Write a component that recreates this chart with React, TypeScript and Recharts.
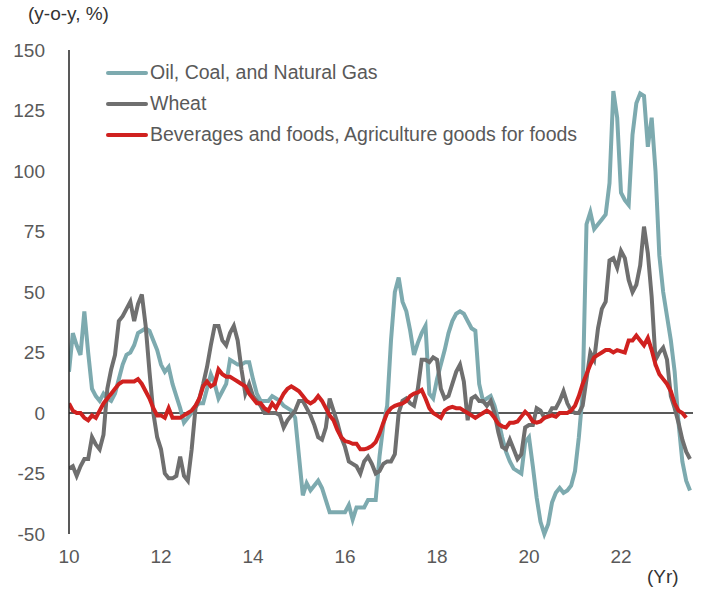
import React from 'react';
import { LineChart, Line, XAxis, YAxis, ReferenceLine } from 'recharts';

// monthly y-o-y %, Jan 2010 .. Jul 2023
const oilCoalGas = [
  17, 33, 28, 24, 42, 25, 10, 7, 5, 8, 6, 5,
  8, 14, 20, 24, 25, 28, 33, 34, 35, 34, 30, 26,
  20, 17, 19, 12, 7, 2, -4, -2, 0, 3, 4, 4,
  10, 16, 12, 6, 9, 12, 22, 21, 20, 20, 21, 21,
  14, 8, 5, 5, 5, 7, 6, 5, 3, 2, 1, -2,
  -18, -34, -29, -32, -30, -28, -31, -36, -41, -41, -41, -41,
  -41, -38, -44, -39, -39, -39, -36, -36, -36, -18, -5, 3,
  30, 50, 56, 46, 42, 34, 24, 29, 33, 36, 8, 6,
  14, 20, 26, 33, 38, 41, 42, 41, 38, 35, 34, 12,
  5, 6, 7, 3, -3, -10, -16, -20, -23, -24, -25, -12,
  -10, -22, -35, -45, -50, -46, -37, -33, -31, -33, -32, -30,
  -24, -10, 8, 78, 83, 76, 78, 80, 82, 95, 133, 122,
  91, 88, 86, 115, 128, 132, 131, 110, 122, 100, 65, 50,
  40, 30, 17, -4, -20, -28, -32,
];

const wheat = [
  -23, -22, -26, -22, -19, -19, -10, -13, -15, -9, 10, 18,
  24, 38, 40, 43, 46, 38, 45, 49, 36, 17, 0, -10,
  -15, -25, -27, -27, -26, -18, -26, -28, -15, 2, 6, 12,
  19, 28, 36, 36, 30, 28, 33, 36, 30, 18, 8, 12,
  7, 5, 3, 0, 0, 0, 0, -1, -6, -3, -1, 1,
  5, 5, 2, -1, -5, -10, -11, -6, 6, 1, -4, -10,
  -14, -20, -21, -22, -25, -20, -18, -21, -25, -24, -21, -20,
  -20, -17, 0, 5, 6, 4, 3, 10, 22, 22, 21, 23,
  22, 10, 6, 7, 12, 17, 20, 13, -3, 6, 7, 5,
  5, 3, 5, 0, -8, -14, -15, -11, -15, -19, -17, -6,
  -5, -5, 2, 1, -2, -1, 2, 2, 5, 9, 4, 1,
  0, 0, 3, 14, 25, 22, 35, 43, 46, 63, 64, 60,
  67, 64, 55, 50, 53, 61, 77, 66, 48, 22, 25, 27,
  22, 7, 2, -4, -11, -16, -19,
];

const beverages = [
  4, 1, 0, 0, -2, -3, -1, -2, 1, 4, 6, 8,
  10, 12, 13, 13, 13, 13, 14, 12, 9, 6, 2, -1,
  -1, -2, 2, -2, -2, -2, -1, 0, 1, 3, 6, 11,
  13, 11, 12, 18, 16, 15, 15, 14, 13, 12, 11, 8,
  6, 4, 4, 2, 1, 4, 2, 5, 8, 10, 11, 10,
  9, 7, 5, 4, 5, 7, 5, 2, -1, -3, -7, -10,
  -11.6, -12, -12.7, -12.7, -15, -15, -14.5, -13.6, -12, -8.5, -4, 0,
  2, 3, 3.5, 4, 5, 7, 8, 8.5, 9.5, 6, 2, 0,
  -1, -2, 1, 2, 2.5, 2, 2, 1, 0, -1, -2, -1,
  0, 1, 0, -2, -4.5, -5.5, -6, -4, -4, -3.5, -1.5, 0.5,
  -1, -3.5, -4, -3.5, -2, -1.5, -1, -1.5, 0, 0, 0, 1,
  3, 7, 12, 16, 20, 23, 24, 25, 26, 26, 25, 26,
  25.5, 25, 30, 30, 32, 30, 28, 31, 26, 20, 16, 14,
  12, 9, 4, 1, 0, -2, null,
];

const yearTicks = [2010, 2012, 2014, 2016, 2018, 2020, 2022];
const valueTicks = [-50, -25, 0, 25, 50, 75, 100, 125, 150];

const series = [
  { key: 'oil', name: 'Oil, Coal, and Natural Gas', color: '#7DAAAF' },
  { key: 'wheat', name: 'Wheat', color: '#6F6F6F' },
  { key: 'bev', name: 'Beverages and foods, Agriculture goods for foods', color: '#D0211F' },
];

const data = oilCoalGas.map((v, i) => ({
  t: 2010 + i / 12,
  oil: v,
  wheat: wheat[i],
  bev: beverages[i],
}));

const FONT = '"Liberation Sans", Arial, sans-serif';

export default function App() {
  return (
    <div style={{ position: 'absolute', left: 0, top: 0, width: 701, height: 590, background: '#fff', fontFamily: FONT }}>
      <div style={{ position: 'absolute', left: 28, top: 3, fontSize: 19, color: '#333' }}>(y-o-y, %)</div>
      <div style={{ position: 'absolute', left: 647, top: 566, fontSize: 19, color: '#333' }}>(Yr)</div>
      <LineChart width={701} height={590} data={data} margin={{ top: 50, right: 8, bottom: 26, left: 0 }}>
        <XAxis
          dataKey="t"
          type="number"
          domain={[2010, 2023.565]}
          ticks={yearTicks}
          tickFormatter={(v: number) => String(v - 2000)}
          axisLine={false}
          tickLine={false}
          tickSize={0}
          tickMargin={16}
          height={30}
          tick={{ fill: '#595959', fontSize: 19, fontFamily: FONT }}
          allowDataOverflow
        />
        <YAxis
          type="number"
          domain={[-50, 150]}
          ticks={valueTicks}
          width={69}
          tickLine={false}
          tickSize={0}
          tickMargin={24}
          axisLine={{ stroke: '#222', strokeWidth: 1.5 }}
          tick={{ fill: '#595959', fontSize: 19, fontFamily: FONT }}
        />
        <ReferenceLine y={0} stroke="#222" strokeWidth={1.5} />
        {series.map(s => (
          <Line key={s.key} type="linear" dataKey={s.key} name={s.name} stroke={s.color} strokeWidth={4} dot={false} isAnimationActive={false} />
        ))}
      </LineChart>
      <div style={{ position: 'absolute', left: 106, top: 57 }}>
        {series.map(s => (
          <div key={s.key} style={{ display: 'flex', alignItems: 'center', height: 31 }}>
            <svg width={42} height={8}>
              <line x1={2} y1={4} x2={40} y2={4} stroke={s.color} strokeWidth={4} strokeLinecap="round" />
            </svg>
            <span style={{ marginLeft: 2, color: '#595959', fontSize: 19.5 }}>{s.name}</span>
          </div>
        ))}
      </div>
    </div>
  );
}
